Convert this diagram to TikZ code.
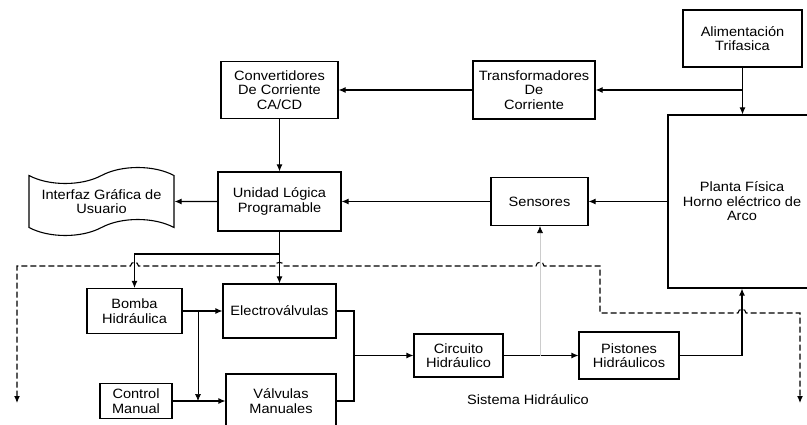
\documentclass[tikz,border=0pt]{standalone}
\usepackage{fontspec}
\setmainfont[FakeStretch=1.08]{Liberation Sans}
\usetikzlibrary{arrows.meta,shapes.symbols}

\begin{document}
\begin{tikzpicture}[x=1pt, y=-1pt,
	block/.style={draw, line width=1.1pt, align=center, inner sep=2pt, font=\fontsize{13.5}{14.5}\selectfont},
	pfeil/.style={line width=1.1pt, -{Latex[length=7pt,width=6pt]}},
	duenn/.style={line width=0.7pt, -{Latex[length=7pt,width=6pt,black]}},
	grenze/.style={line width=1.1pt, dash pattern=on 6pt off 3pt, {Latex[length=7pt,width=6pt]}-{Latex[length=7pt,width=6pt]}}]
	\useasboundingbox (0,0) rectangle (807,425); % Rand wie im Original
	\clip (0,0) rectangle (807,425);
	
	% Energieversorgung
	\node[block, minimum width=119, minimum height=57] (alim) at (742.5,38.5) {Alimentación\\Trifasica};
	\node[block, minimum width=122, minimum height=58] (trafo) at (534,90) {Transformadores\\De\\Corriente};
	\node[block, minimum width=117, minimum height=57] (conv) at (279.5,90) {Convertidores\\De Corriente\\CA/CD};
	\node[block, minimum width=148, minimum height=173] (planta) at (742,201.5) {Planta Física\\Horno eléctrico de\\Arco};
	
	% Steuerung
	\node[block, minimum width=123, minimum height=59] (ulp) at (279.5,201.5) {Unidad Lógica\\Programable};
	\node[block, tape, tape bend height=16pt, minimum width=145, minimum height=68] (gui) at (101.5,201.5) {Interfaz Gráfica de\\Usuario};
	\node[block, minimum width=97, minimum height=48] (sens) at (539.5,201.5) {Sensores};
	
	% Hydraulik
	\node[block, minimum width=95, minimum height=45] (bomba) at (134.5,311) {Bomba\\Hidráulica};
	\node[block, minimum width=113, minimum height=54] (elec) at (279.5,311) {Electroválvulas};
	\node[block, minimum width=72, minimum height=35] (ctrl) at (136,401) {Control\\Manual};
	\node[block, minimum width=110, minimum height=54] (valv) at (281,401) {Válvulas\\Manuales};
	\node[block, minimum width=89, minimum height=43] (circ) at (458.5,355.5) {Circuito\\Hidráulico};
	\node[block, minimum width=100, minimum height=47] (pist) at (629,355.5) {Pistones\\Hidráulicos};
	\node[block, draw=none] (sist) at (528,400) {Sistema Hidráulico};
	
	\coordinate (knick1) at (alim.south |- trafo.east);
	\coordinate (knick2) at (279.5,254);
	\coordinate (knick3) at (198,311);
	\coordinate (knoten) at (354,355.5);
	\coordinate (abgriff) at (540,355.5);
	
	\draw[pfeil] (alim.south) -- (alim.south |- planta.north);
	\draw[pfeil] (knick1) -- (trafo.east);
	\draw[pfeil] (trafo) -- (conv);
	\draw[pfeil] (conv) -- (ulp);
	\draw[pfeil] (planta.west |- sens.east) -- (sens.east);
	\draw[pfeil] (sens) -- (ulp);
	\draw[pfeil] (ulp) -- (gui);
	\draw[pfeil] (ulp) -- (elec);
	\draw[pfeil] (knick2) -| (bomba.north);
	\draw[pfeil] (bomba.east) -- (bomba.east -| elec.west);
	\draw[duenn] (knick3) -- (knick3 |- ctrl.east);
	\draw[pfeil] (ctrl) -- (valv);
	\draw[line width=1.1pt] (elec.east) -| (knoten) |- (valv.east);
	\draw[pfeil] (knoten) -- (circ);
	\draw[pfeil] (circ) -- (pist);
	\draw[pfeil] (pist.east) -| (planta.south);
	\draw[duenn, draw=gray!40] (abgriff) -- (abgriff |- sens.south);
	
	% gestrichelte Grenze mit Bruecken
	\draw[grenze] (17,403) -- (17,266) -- (130.5,266) .. controls (130.5,261) and (138.5,261) .. (138.5,266)
		-- (275.5,266) .. controls (275.5,261) and (283.5,261) .. (283.5,266)
		-- (536,266) .. controls (536,261) and (544,261) .. (544,266)
		-- (600,266) -- (600,313) -- (738,313) .. controls (738,308) and (746,308) .. (746,313)
		-- (800,313) -- (800,403);
	
	%\draw[help lines, step=50] (0,0) grid (807,425);
\end{tikzpicture}
\end{document}
